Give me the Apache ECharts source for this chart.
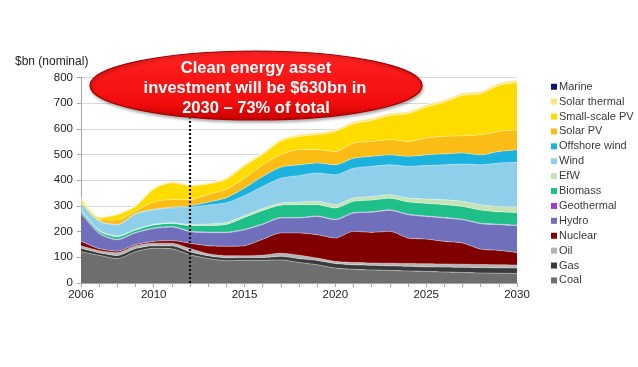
<!DOCTYPE html>
<html><head><meta charset="utf-8">
<script src="https://cdn.jsdelivr.net/npm/echarts@6/dist/echarts.min.js"></script>
<style>html,body{margin:0;padding:0;background:#fff}#c{width:638px;height:367px}</style>
</head><body><div id="c"></div>
<script>
const years = ['2006','2007','2008','2009','2010','2011','2012','2013','2014','2015','2016','2017','2018','2019','2020','2021','2022','2023','2024','2025','2026','2027','2028','2029','2030'];
const yTicks = [0,100,200,300,400,500,600,700,800];
const xLabelYears = ['2006','2010','2015','2020','2025','2030'];
const coal =         [122,108,95,122,135,133,110,95,87,88,88,90,80,71,58,53,51,49,47,45,43,41,39,38,37];
const gas =          [13,10,12,12,10,12,12,11,11,11,11,14,15,17,18,18,18,18,18,18,19,20,21,21,21];
const oil =          [10,8,11,11,10,10,12,8,8,7,9,12,13,9,8,9,9,10,11,12,12,12,12,12,12];
const nuclear =      [18,8,6,5,7,10,21,31,37,39,62,79,87,91,91,121,119,124,99,96,88,83,60,56,49];
const hydro =        [109,59,44,45,50,53,45,51,53,62,58,58,58,71,71,71,78,82,91,88,91,90,99,100,104];
const geothermal =   [2,2,2,2,2,2,2,2,2,2,2,2,2,2,2,2,2,2,2,2,2,2,2,2,2];
const biomass =      [8,7,10,9,12,12,22,26,30,46,52,48,50,44,44,44,46,45,48,49,50,50,51,48,49];
const efw =          [4,3,3,3,3,3,4,6,8,7,8,8,10,13,13,13,14,14,15,17,19,20,21,21,22];
const wind =         [22,35,43,59,56,57,67,73,76,78,86,97,103,110,116,116,117,116,123,130,136,145,155,169,174];
const offshore =     [4,2,2,2,2,3,5,12,20,30,39,43,42,39,39,39,39,39,39,42,43,43,39,45,49];
const solarPV =      [4,4,17,10,28,30,25,30,33,38,45,49,59,52,52,59,58,59,58,65,68,67,78,78,78];
const smallPV =      [8,8,21,18,50,65,53,40,38,47,40,52,51,59,78,75,82,94,108,121,133,157,160,179,184];
const solarThermal = [8,4,4,4,5,5,5,5,7,7,7,8,8,8,7,9,9,9,9,9,9,9,9,9,9];
const marine =       [0,0,0,0,0,0,0,0,0,0,0,0,0,0,0,0,0,0,0,0,0,0,0,0,0];

const seriesDefs = [
  ['Coal', coal, '#6e6e6e'],
  ['Gas', gas, '#3a3a3a'],
  ['Oil', oil, '#b4b4b4'],
  ['Nuclear', nuclear, '#800000'],
  ['Hydro', hydro, '#6f6fbb'],
  ['Geothermal', geothermal, '#9b3fd0'],
  ['Biomass', biomass, '#1fbf8a'],
  ['EfW', efw, '#c5e3b5'],
  ['Wind', wind, '#8fcfea'],
  ['Offshore wind', offshore, '#1cb2e0'],
  ['Solar PV', solarPV, '#fbbc16'],
  ['Small-scale PV', smallPV, '#ffdc00'],
  ['Solar thermal', solarThermal, '#ffe680'],
  ['Marine', marine, '#101080']
];

const chart = echarts.init(document.getElementById('c'), null, {renderer:'canvas'});
const series = seriesDefs.map((d, i) => ({
  name: d[0], type: 'line', stack: 'total', data: d[1],
  symbol: 'none', smooth: 0.25,
  lineStyle: {width: 0.8, color: 'rgba(255,255,255,0.45)'},
  areaStyle: {color: d[2], opacity: 1},
  itemStyle: {color: d[2]},
  emphasis: {disabled: true}
}));
series[series.length-1].markLine = {
  symbol: 'none', silent: true, z: 10,
  label: {show: false},
  lineStyle: {type: [2, 2], color: '#111', width: 2.2},
  data: [[{coord: ['2012', 0]}, {coord: ['2012', 640]}]]
};

chart.setOption({
  animation: false,
  backgroundColor: '#fff',
  grid: {left: 81, right: 121, top: 77.5, bottom: 84},
  legend: {
    orient: 'vertical', left: 546, top: 76,
    data: seriesDefs.map(d => d[0]).reverse(),
    icon: 'rect', itemWidth: 6, itemHeight: 6, itemGap: 3.4,
    textStyle: {fontFamily: 'Liberation Sans, Arial', fontSize: 11, color: '#3a3a3a', padding: [0,0,0,-3], lineHeight: 11.5},
    selectedMode: false
  },
  xAxis: {
    type: 'category', data: years, boundaryGap: false,
    axisLine: {lineStyle: {color: '#a6a6a6'}},
    axisTick: {interval: 0, length: 4, lineStyle: {color: '#a6a6a6'}},
    axisLabel: {
      interval: (idx, val) => xLabelYears.includes(val),
      fontFamily: 'Liberation Sans, Arial', fontSize: 11.5, color: '#222', margin: 6
    }
  },
  yAxis: {
    type: 'value', min: yTicks[0], max: yTicks[yTicks.length-1], interval: 100,
    axisLine: {show: true, lineStyle: {color: '#a6a6a6'}},
    axisTick: {show: true, length: 4, lineStyle: {color: '#a6a6a6'}},
    splitLine: {lineStyle: {color: '#d9d9d9'}},
    axisLabel: {fontFamily: 'Liberation Sans, Arial', fontSize: 11.5, color: '#222', margin: 8}
  },
  series: series,
  graphic: [
    {type: 'text', left: 15, top: 56, z: 100,
     style: {text: '$bn (nominal)', font: '12px "Liberation Sans", Arial', fill: '#222'}},
    {type: 'ellipse', z: 100,
     shape: {cx: 256, cy: 85.5, rx: 166, ry: 34.5},
     style: {
       fill: new echarts.graphic.LinearGradient(0, 0, 0, 1, [
         {offset: 0, color: '#ff2222'}, {offset: 0.75, color: '#f20d0d'}, {offset: 1, color: '#c80000'}]),
       stroke: '#a00000', lineWidth: 1.2,
       shadowBlur: 3, shadowColor: 'rgba(0,0,0,0.3)', shadowOffsetX: 1, shadowOffsetY: 2
     }},
    {type: 'text', z: 101, x: 256, y: 68,
     style: {text: 'Clean energy asset', font: 'bold 16.5px "Liberation Sans", Arial', fill: '#fff', align: 'center', verticalAlign: 'middle'}},
    {type: 'text', z: 101, x: 255, y: 88.5,
     style: {text: 'investment will be $630bn in', font: 'bold 16.5px "Liberation Sans", Arial', fill: '#fff', align: 'center', verticalAlign: 'middle'}},
    {type: 'text', z: 101, x: 256, y: 108,
     style: {text: '2030 \u2013 73% of total', font: 'bold 16.5px "Liberation Sans", Arial', fill: '#fff', align: 'center', verticalAlign: 'middle'}}
  ]
});
</script></body></html>
